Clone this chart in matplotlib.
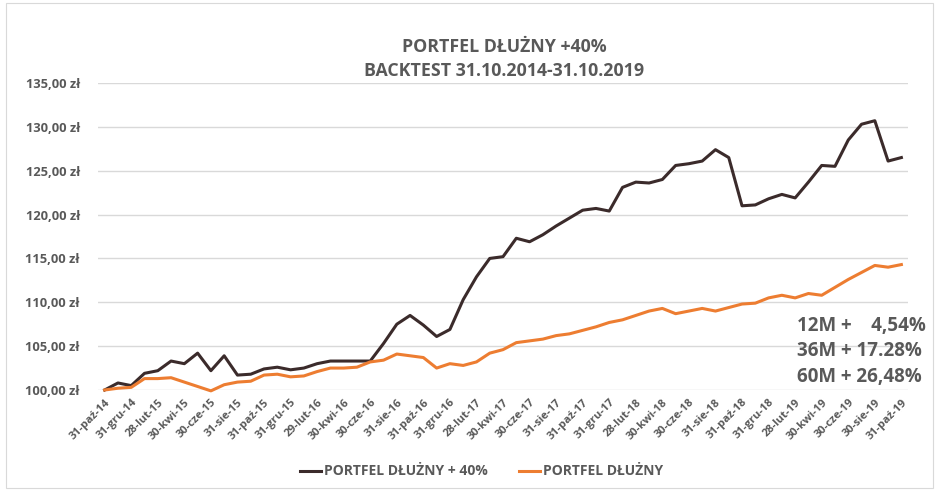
import matplotlib
matplotlib.use("Agg")
import matplotlib.pyplot as plt
from matplotlib.patches import Rectangle

plt.rcParams['font.family'] = ['Open Sans', 'DejaVu Sans']

title_lines = ["PORTFEL DŁUŻNY +40%", "BACKTEST 31.10.2014-31.10.2019"]
series_names = ["PORTFEL DŁUŻNY + 40%", "PORTFEL DŁUŻNY"]

tick_labels = ["31-paź-14", "31-gru-14", "28-lut-15", "30-kwi-15", "30-cze-15", "31-sie-15",
               "31-paź-15", "31-gru-15", "29-lut-16", "30-kwi-16", "30-cze-16", "31-sie-16",
               "31-paź-16", "31-gru-16", "28-lut-17", "30-kwi-17", "30-cze-17", "31-sie-17",
               "31-paź-17", "31-gru-17", "28-lut-18", "30-kwi-18", "30-cze-18", "31-sie-18",
               "31-paź-18", "31-gru-18", "28-lut-19", "30-kwi-19", "30-cze-19", "30-sie-19",
               "31-paź-19"]

plus40 = [100.0, 100.8, 100.5, 101.9, 102.2, 103.3, 103.0, 104.2, 102.2, 103.9, 101.7,
          101.8, 102.4, 102.6, 102.3, 102.5, 103.0, 103.3, 103.3, 103.3, 103.3,
          105.3, 107.5, 108.5, 107.4, 106.1, 106.9, 110.3, 112.9, 115.0, 115.2,
          117.3, 116.9, 117.7, 118.7, 119.6, 120.5, 120.7, 120.4, 123.1, 123.7,
          123.6, 124.0, 125.6, 125.8, 126.1, 127.4, 126.5, 121.0, 121.1, 121.8,
          122.3, 121.9, 123.7, 125.6, 125.5, 128.5, 130.3, 130.7, 126.1, 126.5]

base = [100.0, 100.2, 100.3, 101.3, 101.3, 101.4, 100.9, 100.4, 99.9, 100.6, 100.9,
        101.0, 101.7, 101.8, 101.5, 101.6, 102.1, 102.5, 102.5, 102.6, 103.2,
        103.4, 104.1, 103.9, 103.7, 102.5, 103.0, 102.8, 103.2, 104.2, 104.6,
        105.4, 105.6, 105.8, 106.2, 106.4, 106.8, 107.2, 107.7, 108.0, 108.5,
        109.0, 109.3, 108.7, 109.0, 109.3, 109.0, 109.4, 109.8, 109.9, 110.5,
        110.8, 110.5, 111.0, 110.8, 111.7, 112.6, 113.4, 114.2, 114.0, 114.3]

annotations = ["12M +    4,54%", "36M + 17.28%", "60M + 26,48%"]
yticks = [100, 105, 110, 115, 120, 125, 130, 135]

GRAY = "#595959"
DARK = "#3B2B2B"
ORANGE = "#ED7D31"

fig = plt.figure(figsize=(9.39, 4.90), dpi=100)
fig.patches.append(Rectangle((0.006, 0.004), 0.988, 0.99, transform=fig.transFigure,
                             fill=False, edgecolor="#D9D9D9", linewidth=0.8))
ax = fig.add_axes([0.1044, 0.2041, 0.8626, 0.6265])

x = list(range(len(plus40)))
ax.plot(x, plus40, color=DARK, lw=2.2, label=series_names[0], solid_joinstyle='round', clip_on=False)
ax.plot(x, base, color=ORANGE, lw=2.2, label=series_names[1], solid_joinstyle='round', clip_on=False)

ax.set_xlim(-0.5, len(x) - 0.5)
ax.set_ylim(100, 135)
ax.set_yticks(yticks)
ax.set_yticklabels([f"{v},00 zł" for v in yticks], fontsize=9.3, color=GRAY, fontweight='bold')
ax.set_xticks(x[::2])
ax.set_xticklabels(tick_labels, rotation=45, ha='right', rotation_mode='anchor',
                   fontsize=8, color=GRAY, fontweight='bold')
ax.tick_params(axis='x', length=0, pad=5)
ax.tick_params(axis='y', length=0, pad=13)
ax.grid(axis='y', color="#D9D9D9", lw=1)
ax.set_axisbelow(True)
for s in ax.spines.values():
    s.set_visible(False)

fig.text(0.537, 0.905, title_lines[0], ha='center', va='center', fontsize=12.8,
         color=GRAY, fontweight='bold')
fig.text(0.537, 0.855, title_lines[1], ha='center', va='center', fontsize=12.8,
         color=GRAY, fontweight='bold')

for i, t in enumerate(annotations):
    fig.text(0.849, 0.335 - i * 0.052, t, ha='left', va='center', fontsize=13.5,
             color=GRAY, fontweight='bold')

leg = fig.legend(loc='center', bbox_to_anchor=(0.513, 0.038), ncol=2, frameon=False,
                 fontsize=10, handlelength=1.5, columnspacing=2.2, handletextpad=0.25)
for t in leg.get_texts():
    t.set_color(GRAY)
    t.set_fontweight('bold')

fig.savefig("out.png", dpi=100)
